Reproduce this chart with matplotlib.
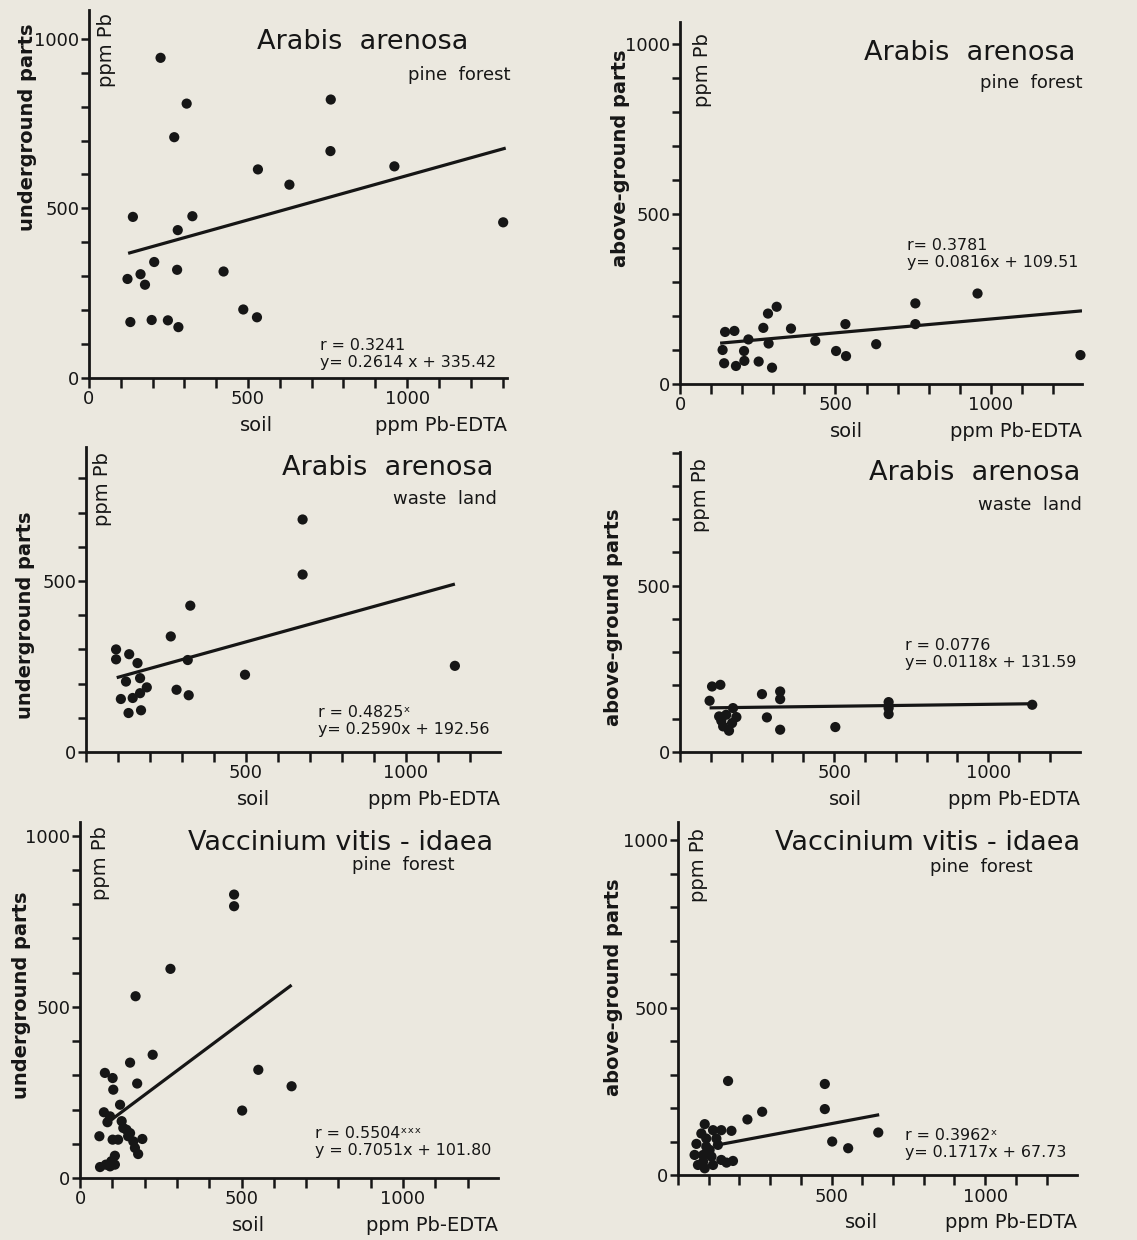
import numpy as np
import matplotlib.pyplot as plt
from matplotlib.ticker import FixedLocator, FuncFormatter

W, H = 1137, 1240
BG = '#ebe8df'
INK = '#161616'

plt.rcParams['font.family'] = 'DejaVu Sans'

# Arabis arenosa, pine forest, underground parts
p1_x = [225, 307, 268, 760, 759, 531, 960, 630, 138, 325, 279, 1302, 205, 277, 423, 121,
        162, 176, 130, 197, 248, 281, 485, 528]
p1_y = [944, 809, 710, 821, 669, 615, 624, 570, 475, 477, 436, 459, 342, 319, 314, 292,
        306, 275, 165, 171, 170, 150, 202, 179]

# Arabis arenosa, pine forest, above-ground parts
p2_x = [957, 757, 757, 311, 283, 268, 357, 145, 175, 220, 285, 137, 206, 207, 142, 180,
        253, 296, 435, 532, 502, 534, 631, 1288]
p2_y = [266, 237, 176, 227, 207, 165, 163, 153, 156, 131, 119, 100, 97, 68, 61, 53,
        66, 48, 127, 176, 97, 82, 117, 85]

# Arabis arenosa, waste land, underground parts
p3_x = [677, 677, 326, 265, 318, 497, 1153, 283, 321, 94, 94, 135, 161, 125, 169, 190,
        169, 146, 109, 133, 172]
p3_y = [680, 519, 428, 338, 269, 226, 252, 182, 166, 300, 271, 286, 260, 206, 216, 189,
        172, 158, 155, 114, 122]

# Arabis arenosa, waste land, above-ground parts
p4_x = [104, 131, 96, 266, 325, 325, 282, 325, 504, 677, 677, 677, 1143, 172, 150, 134,
        183, 159, 140, 169, 127]
p4_y = [197, 202, 154, 174, 182, 159, 104, 67, 75, 150, 132, 114, 142, 132, 112, 94,
        105, 64, 77, 87, 107]

# Vaccinium vitis-idaea, pine forest, underground parts
p5_x = [477, 477, 280, 172, 225, 155, 552, 655, 502, 177, 77, 101, 103, 74, 124, 129,
        85, 60, 101, 118, 144, 149, 165, 170, 180, 193, 108, 97, 80, 62, 108, 93,
        134, 155, 93]
p5_y = [828, 794, 611, 531, 360, 337, 316, 268, 197, 276, 307, 292, 258, 192, 214, 166,
        163, 122, 112, 112, 141, 122, 107, 88, 70, 114, 65, 49, 39, 32, 39, 34,
        146, 131, 180]

# Vaccinium vitis-idaea, pine forest, above-ground parts
p6_x = [163, 478, 478, 274, 226, 652, 502, 554, 87, 114, 141, 174, 76, 92, 125, 60,
        92, 130, 54, 82, 109, 141, 179, 158, 65, 87, 114, 82, 103]
p6_y = [281, 272, 197, 189, 166, 127, 100, 80, 152, 134, 134, 132, 124, 109, 109, 93,
        85, 90, 60, 60, 55, 45, 42, 37, 30, 20, 30, 40, 75]

slopes = [0.2614, 0.0816, 0.2590, 0.0118, 0.7051, 0.1717]
intercepts = [335.42, 109.51, 192.56, 131.59, 101.80, 67.73]
fit_ranges = [(123, 1310), (129, 1293), (96, 1153), (96, 1143), (98, 655), (141, 655)]
stats = ["r = 0.3241\ny= 0.2614 x + 335.42",
         "r= 0.3781\ny= 0.0816x + 109.51",
         "r = 0.4825ˣ\ny= 0.2590x + 192.56",
         "r = 0.0776\ny= 0.0118x + 131.59",
         "r = 0.5504ˣˣˣ\ny = 0.7051x + 101.80",
         "r = 0.3962ˣ\ny= 0.1717x + 67.73"]
titles = ["Arabis  arenosa"] * 4 + ["Vaccinium vitis - idaea"] * 2
sites = ["pine  forest", "pine  forest", "waste  land", "waste  land",
         "pine  forest", "pine  forest"]
ylabels = ["underground parts", "above-ground parts"] * 3
x_shown = [[0, 500, 1000], [0, 500, 1000], [500, 1000], [500, 1000],
           [0, 500, 1000], [500, 1000]]
y_shown = [[0, 500, 1000], [0, 500, 1000], [0, 500], [0, 500],
           [0, 500, 1000], [0, 500, 1000]]

xs = [p1_x, p2_x, p3_x, p4_x, p5_x, p6_x]
ys = [p1_y, p2_y, p3_y, p4_y, p5_y, p6_y]

# layout, in pixels of the 1137x1240 page
boxes = [(89, 10, 507, 378), (680, 22, 1082, 384), (86, 447, 500, 752),
         (680, 452, 1080, 752), (80, 822, 498, 1178), (678, 822, 1077, 1175)]
limits = [(1314, 1085), (1293, 1064), (1294, 892), (1298, 902), (1294, 1040), (1299, 1055)]
title_pos = [(468, 42), (1075, 53), (493, 468), (1080, 473), (493, 843), (1080, 843)]
site_pos = [(510, 75), (1082, 83), (497, 499), (1082, 505), (455, 865), (1033, 867)]
stat_pos = [(320, 338), (907, 238), (318, 705), (905, 638), (315, 1126), (905, 1128)]
ppm_pos = [(106, 50), (703, 70), (103, 489), (700, 495), (100, 863), (698, 865)]
ylab_pos = [(28, 127), (620, 158), (26, 615), (613, 617), (22, 995), (613, 987)]
soil_x = [525, 534, 522, 536, 523, 596]


def fx(px):
    return px / W


def fy(py):
    return 1 - py / H


fig = plt.figure(figsize=(W / 100, H / 100), dpi=100, facecolor=BG)

for i in range(6):
    l, t, r, b = boxes[i]
    ax = fig.add_axes([fx(l), fy(b), (r - l) / W, (b - t) / H])
    ax.set_facecolor('none')
    xmax, ymax = limits[i]

    ax.scatter(xs[i], ys[i], s=54, color=INK, edgecolors='none', zorder=3, clip_on=False)
    lx = np.array(fit_ranges[i])
    ax.plot(lx, slopes[i] * lx + intercepts[i], color=INK, lw=2.3, solid_capstyle='butt')

    ax.set_xlim(0, xmax)
    ax.set_ylim(0, ymax)
    for s in ['top', 'right']:
        ax.spines[s].set_visible(False)
    for s in ['left', 'bottom']:
        ax.spines[s].set_linewidth(2.0)
        ax.spines[s].set_color(INK)

    ax.xaxis.set_major_locator(FixedLocator(np.arange(0, xmax, 100)))
    ax.yaxis.set_major_locator(FixedLocator(np.arange(0, ymax, 100)))
    xs_i, ys_i = x_shown[i], y_shown[i]
    ax.xaxis.set_major_formatter(FuncFormatter(
        lambda v, pos, sh=xs_i: f'{v:.0f}' if round(v) in sh else ''))
    ax.yaxis.set_major_formatter(FuncFormatter(
        lambda v, pos, sh=ys_i: f'{v:.0f}' if round(v) in sh else ''))
    ax.tick_params(axis='x', direction='out', length=7, width=1.8, color=INK,
                   labelsize=13, labelcolor=INK, pad=2)
    ax.tick_params(axis='y', direction='out', length=6, width=1.8, color=INK,
                   labelsize=13, labelcolor=INK, pad=1)

    ax.annotate('soil', xy=(soil_x[i], 0), xycoords=('data', 'axes fraction'),
                xytext=(0, -34), textcoords='offset points', ha='center', va='center',
                fontsize=14, color=INK, annotation_clip=False)
    ax.annotate('ppm Pb-EDTA', xy=(1.0, 0), xycoords='axes fraction',
                xytext=(0, -34), textcoords='offset points', ha='right', va='center',
                fontsize=14, color=INK, annotation_clip=False)

    fig.text(fx(title_pos[i][0]), fy(title_pos[i][1]), titles[i], ha='right', va='center',
             fontsize=19.5, color=INK)
    fig.text(fx(site_pos[i][0]), fy(site_pos[i][1]), sites[i], ha='right', va='center',
             fontsize=13, color=INK)
    fig.text(fx(stat_pos[i][0]), fy(stat_pos[i][1]), stats[i], ha='left', va='top',
             fontsize=11.4, color=INK, linespacing=1.2)
    fig.text(fx(ppm_pos[i][0]), fy(ppm_pos[i][1]), 'ppm Pb', rotation=90, ha='center',
             va='center', fontsize=14, color=INK)
    fig.text(fx(ylab_pos[i][0]), fy(ylab_pos[i][1]), ylabels[i], rotation=90,
             ha='center', va='center', fontsize=14, fontweight='bold', color=INK)

fig.savefig('out.png', dpi=100, facecolor=BG)
